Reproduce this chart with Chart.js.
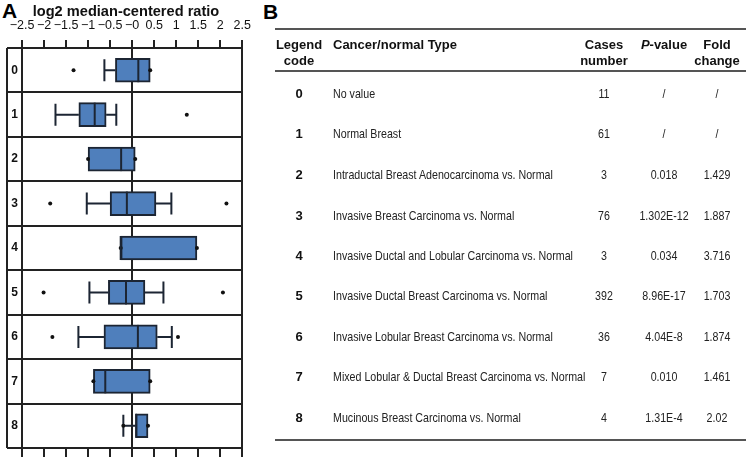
<!DOCTYPE html>
<html>
<head>
<meta charset="utf-8">
<script src="https://cdn.jsdelivr.net/npm/chart.js@4/dist/chart.umd.min.js"></script>
<style>
body { margin:0; width:746px; height:457px; position:relative; background:#fff; overflow:hidden;
       font-family:"Liberation Sans", Arial, sans-serif; color:#1a1a1a; }
.panel { position:absolute; font-weight:bold; font-size:21px; line-height:21px; color:#000; }
#boxWrap { position:absolute; left:0; top:0; width:258px; height:457px; }
#axisTitle { position:absolute; left:20px; top:2px; width:212px; text-align:center; font-weight:bold; font-size:14.6px; line-height:18px; color:#111; }
.rule { position:absolute; left:275px; width:471px; height:2px; background:#555; }
.cell { position:absolute; white-space:nowrap; line-height:16px; }
.hd { font-weight:bold; font-size:13px; color:#111; }
.txt { font-size:13px; color:#222; transform:scaleX(0.82); transform-origin:0 50%; }
.mid.txt { transform-origin:50% 50%; }
.code { font-weight:bold; font-size:13px; color:#111; }
.mid { width:100px; text-align:center; }
</style>
</head>
<body>
<div class="panel" style="left:2px;top:0px">A</div>
<div class="panel" style="left:263px;top:1px">B</div>
<div id="boxWrap"><canvas id="boxChart" width="258" height="457"></canvas></div>
<div id="axisTitle">log2 median-centered ratio</div>
<div id="table"></div>
<script>
// panel A: box plot values (log2 median-centered ratio)
const groups = ['0', '1', '2', '3', '4', '5', '6', '7', '8'];
const whiskerLow  = [-0.63, -1.74, -1.00, -1.03, -0.26, -0.97, -1.22, -0.88, -0.20];
const q1          = [-0.38, -1.21, -1.00, -0.50, -0.26, -0.54, -0.64, -0.88,  0.08];
const median      = [ 0.14, -0.85, -0.25, -0.12, -0.26, -0.14,  0.13, -0.61,  0.09];
const q3          = [ 0.41, -0.59,  0.07,  0.54,  1.47,  0.29,  0.57,  0.41,  0.36];
const whiskerHigh = [ 0.41, -0.36,  0.07,  0.89,  1.47,  0.71,  0.90,  0.41,  0.36];
const dotRows   = [0, 0, 1, 2, 2, 3, 3, 4, 4, 5, 5, 6, 6, 7, 7, 8, 8];
const dotValues = [-1.33, 0.41, 1.24, -1.00, 0.07, -1.86, 2.14, -0.26, 1.47, -2.01, 2.06, -1.81, 1.04, -0.88, 0.41, -0.20, 0.36];
const xTickLabels = ['\u22122.5', '\u22122', '\u22121.5', '\u22121', '\u22120.5', '\u22120', '0.5', '1', '1.5', '2', '2.5'];

// panel B: table
const codes = ['0', '1', '2', '3', '4', '5', '6', '7', '8'];
const types = ['No value', 'Normal Breast', 'Intraductal Breast Adenocarcinoma vs. Normal',
  'Invasive Breast Carcinoma vs. Normal', 'Invasive Ductal and Lobular Carcinoma vs. Normal',
  'Invasive Ductal Breast Carcinoma vs. Normal', 'Invasive Lobular Breast Carcinoma vs. Normal',
  'Mixed Lobular & Ductal Breast Carcinoma vs. Normal', 'Mucinous Breast Carcinoma vs. Normal'];
const cases = ['11', '61', '3', '76', '3', '392', '36', '7', '4'];
const pValues = ['/', '/', '0.018', '1.302E-12', '0.034', '8.96E-17', '4.04E-8', '0.010', '1.31E-4'];
const folds = ['/', '/', '1.429', '1.887', '3.716', '1.703', '1.874', '1.461', '2.02'];

const boxFill = '#4f7fbc';
const ink = '#1c2533';

// whiskers, caps and medians drawn on the library scales
const boxParts = {
  id: 'boxParts',
  beforeDatasetsDraw(chart) {
    const xs = chart.scales.x, ys = chart.scales.y, c = chart.ctx;
    c.save();
    c.strokeStyle = ink;
    c.lineWidth = 2;
    groups.forEach((g, i) => {
      const yc = ys.getPixelForValue(i);
      const capH = 11;
      if (whiskerLow[i] < q1[i]) {
        c.beginPath();
        c.moveTo(xs.getPixelForValue(whiskerLow[i]), yc);
        c.lineTo(xs.getPixelForValue(q1[i]), yc);
        c.moveTo(xs.getPixelForValue(whiskerLow[i]), yc - capH);
        c.lineTo(xs.getPixelForValue(whiskerLow[i]), yc + capH);
        c.stroke();
      }
      if (whiskerHigh[i] > q3[i]) {
        c.beginPath();
        c.moveTo(xs.getPixelForValue(q3[i]), yc);
        c.lineTo(xs.getPixelForValue(whiskerHigh[i]), yc);
        c.moveTo(xs.getPixelForValue(whiskerHigh[i]), yc - capH);
        c.lineTo(xs.getPixelForValue(whiskerHigh[i]), yc + capH);
        c.stroke();
      }
    });
    c.restore();
  },
  afterDatasetsDraw(chart) {
    const xs = chart.scales.x, ys = chart.scales.y, c = chart.ctx;
    const meta = chart.getDatasetMeta(0);
    c.save();
    c.strokeStyle = ink;
    c.lineWidth = 2;
    groups.forEach((g, i) => {
      const yc = ys.getPixelForValue(i);
      const h = meta.data[i].height / 2;
      const xm = xs.getPixelForValue(median[i]);
      c.beginPath();
      c.moveTo(xm, yc - h);
      c.lineTo(xm, yc + h);
      c.stroke();
    });
    // outer frame round the label column
    const a = chart.chartArea;
    c.strokeStyle = '#222';
    c.beginPath();
    c.moveTo(a.left - 15, a.top);
    c.lineTo(a.left - 15, a.bottom);
    c.stroke();
    c.restore();
  }
};

new Chart(document.getElementById('boxChart'), {
  type: 'bar',
  data: {
    labels: groups,
    datasets: [{
      type: 'bar',
      data: q1.map((v, i) => [v, q3[i]]),
      backgroundColor: boxFill,
      borderColor: ink,
      borderWidth: 2,
      borderSkipped: false,
      barThickness: 24,
      order: 2
    }, {
      type: 'scatter',
      data: dotRows.map((r, i) => ({ x: dotValues[i], y: groups[r] })),
      pointRadius: 2,
      pointBackgroundColor: '#111',
      pointBorderWidth: 0,
      order: 1
    }]
  },
  options: {
    indexAxis: 'y',
    responsive: false,
    animation: false,
    layout: { padding: { left: 7, right: 0, top: 0, bottom: 0 } },
    plugins: { legend: { display: false }, tooltip: { enabled: false } },
    scales: {
      x: {
        type: 'linear',
        position: 'top',
        min: -2.5,
        max: 2.5,
        ticks: {
          stepSize: 0.5,
          autoSkip: false,
          maxRotation: 0,
          padding: 7,
          color: '#111',
          font: { family: 'Liberation Sans', size: 12.5 },
          callback: (v, i) => xTickLabels[i]
        },
        grid: {
          color: ctx => (ctx.tick && (Math.abs(ctx.tick.value) < 1e-6 || Math.abs(ctx.tick.value) > 2.49)) ? '#222' : 'rgba(0,0,0,0)',
          tickColor: '#222',
          tickLength: 8,
          lineWidth: 2
        },
        border: { color: '#222', width: 2 },
        afterFit(s) { s.height = 48; }
      },
      x2: {
        type: 'linear',
        position: 'bottom',
        min: -2.5,
        max: 2.5,
        ticks: { stepSize: 0.5, display: false },
        grid: { drawOnChartArea: false, tickColor: '#222', tickLength: 9, lineWidth: 2 },
        border: { color: '#222', width: 2 }
      },
      y: {
        type: 'category',
        offset: true,
        grid: { offset: true, color: '#222', tickColor: '#222', tickLength: 15, lineWidth: 2 },
        border: { color: '#222', width: 2 },
        ticks: {
          padding: -11,
          color: '#111',
          font: { family: 'Liberation Sans', size: 12, weight: 'bold' }
        },
        afterFit(s) { s.width = 15; }
      }
    }
  },
  plugins: [boxParts]
});

// table for panel B
const tbl = document.getElementById('table');
let html = '';
[28, 70, 439].forEach(t => { html += '<div class="rule" style="top:' + t + 'px"></div>'; });
const codeX = 299, typeX = 333, casesX = 604, pX = 664, foldX = 717;
const mid = (cx, top, cls, text) =>
  '<div class="cell mid ' + cls + '" style="left:' + (cx - 50) + 'px;top:' + top + 'px">' + text + '</div>';
html += mid(codeX, 37, 'hd', 'Legend<br>code');
html += '<div class="cell hd" style="left:' + typeX + 'px;top:37px">Cancer/normal Type</div>';
html += mid(casesX, 37, 'hd', 'Cases<br>number');
html += mid(pX, 37, 'hd', '<i>P</i>-value');
html += mid(foldX, 37, 'hd', 'Fold<br>change');
const rowY = [94, 134, 175, 216, 256, 296, 337, 377, 418];
codes.forEach((code, i) => {
  const top = rowY[i] - 8;
  html += mid(codeX, top, 'code', code);
  html += '<div class="cell txt" style="left:' + typeX + 'px;top:' + top + 'px">' + types[i].replace('&', '&amp;') + '</div>';
  html += mid(casesX, top, 'txt', cases[i]);
  html += mid(pX, top, 'txt', pValues[i]);
  html += mid(foldX, top, 'txt', folds[i]);
});
tbl.innerHTML = html;
</script>
</body>
</html>
